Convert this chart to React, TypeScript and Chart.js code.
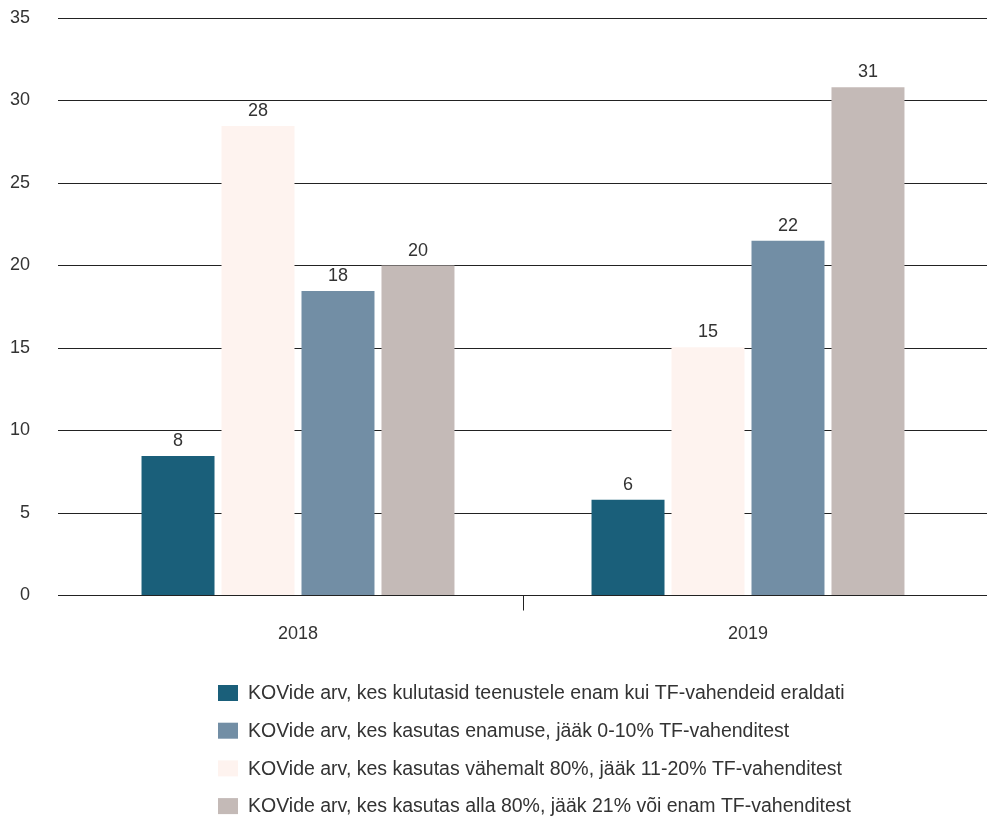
import React, { useEffect, useRef } from "react";
import { Chart, registerables } from "chart.js";

Chart.register(...registerables);

const categories = ["2018", "2019"];
const seriesNames = [
  "KOVide arv, kes kulutasid teenustele enam kui TF-vahendeid eraldati",
  "KOVide arv, kes kasutas vähemalt 80%, jääk 11-20% TF-vahenditest",
  "KOVide arv, kes kasutas enamuse, jääk 0-10% TF-vahenditest",
  "KOVide arv, kes kasutas alla 80%, jääk 21% või enam TF-vahenditest",
];
const overspent = [8.45, 5.8];
const atLeast80 = [28.45, 15.05];
const most = [18.45, 21.5];
const below80 = [20, 30.8];
const seriesColors = ["#1a5f7a", "#fef3ef", "#728ea5", "#c4bab7"];
const legendOrder = [0, 2, 1, 3];
const yTicksMax = 35;
const yStep = 5;

const FONT = '"Liberation Sans", Arial, Helvetica, sans-serif';
const TEXT = "#333333";
const LINE = "#222222";

const valueLabels = {
  id: "valueLabels",
  afterDatasetsDraw(chart: any) {
    const ctx = chart.ctx;
    ctx.save();
    ctx.font = `18px ${FONT}`;
    ctx.fillStyle = TEXT;
    ctx.textAlign = "center";
    ctx.textBaseline = "alphabetic";
    chart.data.datasets.forEach((ds: any, di: number) => {
      const meta = chart.getDatasetMeta(di);
      meta.data.forEach((bar: any, i: number) => {
        const v = ds.data[i];
        ctx.fillText(String(Math.round(v)), bar.x, bar.y - 10);
      });
    });
    ctx.restore();
  },
};

const customLegend = {
  id: "customLegend",
  afterDraw(chart: any) {
    const ctx = chart.ctx;
    ctx.save();
    ctx.font = `19.5px ${FONT}`;
    ctx.textAlign = "left";
    ctx.textBaseline = "middle";
    const x0 = 218;
    const y0 = 693;
    const step = 37.7;
    legendOrder.forEach((di, row) => {
      const ds = chart.data.datasets[di];
      const cy = y0 + row * step;
      ctx.fillStyle = ds.backgroundColor;
      ctx.fillRect(x0, cy - 8, 20, 16);
      ctx.fillStyle = TEXT;
      ctx.fillText(ds.label, x0 + 30, cy + 1);
    });
    ctx.restore();
  },
};

export default function App() {
  const ref = useRef<HTMLCanvasElement>(null);
  useEffect(() => {
    if (!ref.current) return;
    const seriesValues = [overspent, atLeast80, most, below80];
    const chart = new Chart(ref.current, {
      type: "bar",
      data: {
        labels: categories,
        datasets: seriesValues.map((vals, i) => ({
          label: seriesNames[i],
          data: vals,
          backgroundColor: seriesColors[i],
          borderWidth: 0,
          categoryPercentage: 0.711,
          barPercentage: 0.9125,
        })),
      },
      options: {
        animation: false,
        responsive: false,
        maintainAspectRatio: false,
        layout: { padding: { top: 18, left: 0, right: 0, bottom: 0 } },
        plugins: {
          legend: { display: false },
          tooltip: { enabled: false },
        },
        scales: {
          x: {
            position: "bottom",
            grid: {
              display: true,
              drawOnChartArea: false,
              drawTicks: true,
              tickLength: 15,
              offset: true,
              color: (c: any) => (c.index === 1 ? LINE : "rgba(0,0,0,0)"),
              lineWidth: 1,
            },
            border: { display: true, color: LINE, width: 1 },
            ticks: {
              color: TEXT,
              font: { family: FONT, size: 18 },
              padding: 13,
            },
            afterFit: (s: any) => {
              s.height = 222.5;
              s.paddingLeft = 0;
              s.paddingRight = 0;
            },
          },
          y: {
            position: "left",
            min: 0,
            max: yTicksMax,
            ticks: {
              stepSize: yStep,
              color: TEXT,
              font: { family: FONT, size: 18 },
              padding: 28,
            },
            grid: {
              color: LINE,
              lineWidth: 1,
              drawTicks: true,
              tickLength: 15,
            },
            border: { display: false },
            afterFit: (s: any) => {
              s.width = 73;
              s.paddingTop = 0;
              s.paddingBottom = 0;
            },
          },
          y2: {
            position: "right",
            min: 0,
            max: yTicksMax,
            ticks: { stepSize: yStep, display: false },
            grid: {
              color: LINE,
              lineWidth: 1,
              drawOnChartArea: false,
              drawTicks: true,
              tickLength: 14,
            },
            border: { display: false },
            afterFit: (s: any) => {
              s.width = 14;
              s.paddingTop = 0;
              s.paddingBottom = 0;
            },
          },
        },
      },
      plugins: [valueLabels, customLegend],
    });
    return () => chart.destroy();
  }, []);
  return (
    <div style={{ position: "fixed", left: 0, top: 0, width: 987, height: 818, background: "#fff" }}>
      <canvas ref={ref} width={987} height={818} style={{ display: "block", width: 987, height: 818 }} />
    </div>
  );
}
